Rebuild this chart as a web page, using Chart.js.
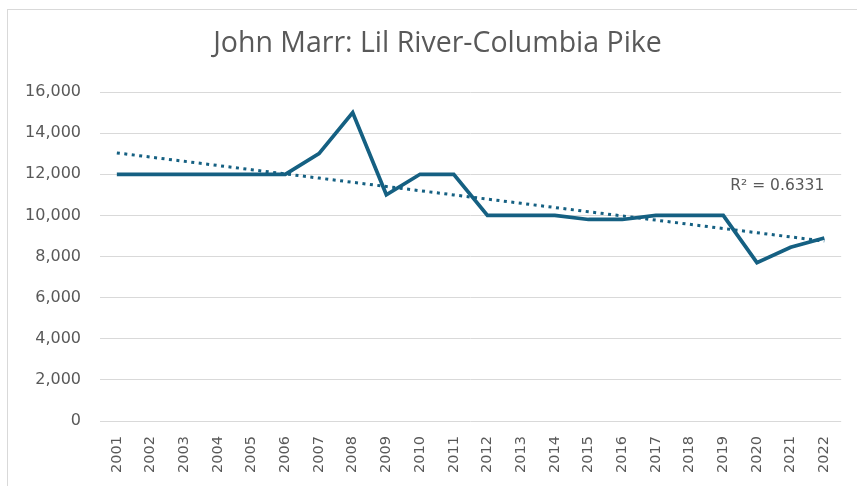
<!DOCTYPE html>
<html>
<head>
<meta charset="utf-8">
<script src="https://cdn.jsdelivr.net/npm/chart.js@4"></script>
<style>
  html, body { margin: 0; padding: 0; background: #fff; overflow: hidden; }
  #wrap { position: relative; width: 857px; height: 486px; }
  #frame { position: absolute; left: 7px; top: 9px; width: 900px; height: 500px;
           border-left: 1px solid #d9d9d9; border-top: 1px solid #d9d9d9; box-sizing: border-box; }
  canvas { position: absolute; left: 0; top: 0; }
</style>
</head>
<body>
<div id="wrap">
  <div id="frame"></div>
  <canvas id="c" width="857" height="486"></canvas>
</div>
<script>
const titleText = "John Marr: Lil River-Columbia Pike";
const years = ["2001","2002","2003","2004","2005","2006","2007","2008","2009","2010","2011",
               "2012","2013","2014","2015","2016","2017","2018","2019","2020","2021","2022"];
const counts = [12000,12000,12000,12000,12000,12000,13000,15000,11000,12000,12000,
                10000,10000,10000,9800,9800,10000,10000,10000,7700,8450,8900];
const yTicks = [0,2000,4000,6000,8000,10000,12000,14000,16000];
const r2Label = "R² = 0.6331";

// Linear trendline (least squares) from the data, as the spreadsheet does
const n = counts.length;
const xs = counts.map((_, i) => i);
const mx = xs.reduce((a, b) => a + b, 0) / n;
const my = counts.reduce((a, b) => a + b, 0) / n;
let sxy = 0, sxx = 0;
xs.forEach((x, i) => { sxy += (x - mx) * (counts[i] - my); sxx += (x - mx) * (x - mx); });
const slope = sxy / sxx;
const intercept = my - slope * mx;
const trend = xs.map(x => intercept + slope * x);

const lineColor = "#156082";
const textColor = "#595959";
const tickFont = "'DejaVu Sans', sans-serif";

// Title and R² annotation drawn as canvas text
const textPlugin = {
  id: "texts",
  afterDraw(chart) {
    const ctx = chart.ctx;
    const xs = chart.scales.x, ys = chart.scales.y;
    ctx.save();
    ctx.fillStyle = textColor;
    // title, centred over the (wider, cropped) chart frame
    ctx.font = "28.5px 'Open Sans', sans-serif";
    ctx.textAlign = "center";
    ctx.textBaseline = "middle";
    ctx.fillText(titleText, (chart.width + 18) / 2, 44);
    // R² label
    ctx.font = "15.5px " + tickFont;
    ctx.textAlign = "right";
    ctx.fillText(r2Label, xs.getPixelForValue(n - 1), ys.getPixelForValue(11450));
    ctx.restore();
  }
};

new Chart(document.getElementById("c"), {
  type: "line",
  data: {
    labels: years,
    datasets: [
      {
        label: "Count",
        data: counts,
        borderColor: lineColor,
        backgroundColor: lineColor,
        borderWidth: 3.75,
        pointRadius: 0,
        tension: 0,
        borderJoinStyle: "miter",
        order: 1
      },
      {
        label: "Linear (Count)",
        data: trend,
        borderColor: lineColor,
        borderWidth: 3,
        borderDash: [3, 4.5],
        pointRadius: 0,
        tension: 0,
        order: 2
      }
    ]
  },
  options: {
    responsive: false,
    animation: false,
    devicePixelRatio: 1,
    layout: { padding: { left: 0, right: 12, top: 92, bottom: 0 } },
    plugins: {
      legend: { display: false },
      tooltip: { enabled: false },
      title: { display: false }
    },
    scales: {
      x: {
        offset: true,
        grid: { display: false, drawTicks: false },
        border: { display: false },
        ticks: {
          color: textColor,
          font: { family: tickFont, size: 14.5 },
          minRotation: 90,
          maxRotation: 90,
          padding: 15,
          autoSkip: false
        },
        afterFit(scale) { scale.height = 65; }
      },
      y: {
        min: 0,
        max: 16000,
        afterBuildTicks(scale) { scale.ticks = yTicks.map(v => ({ value: v })); },
        grid: { color: "#d9d9d9", lineWidth: 1, drawTicks: false },
        border: { display: false },
        ticks: {
          color: textColor,
          font: { family: tickFont, size: 16 },
          padding: 19,
          callback: v => v.toLocaleString("en-US")
        },
        afterFit(scale) { scale.width = 100; }
      }
    }
  },
  plugins: [textPlugin]
});
</script>
</body>
</html>
